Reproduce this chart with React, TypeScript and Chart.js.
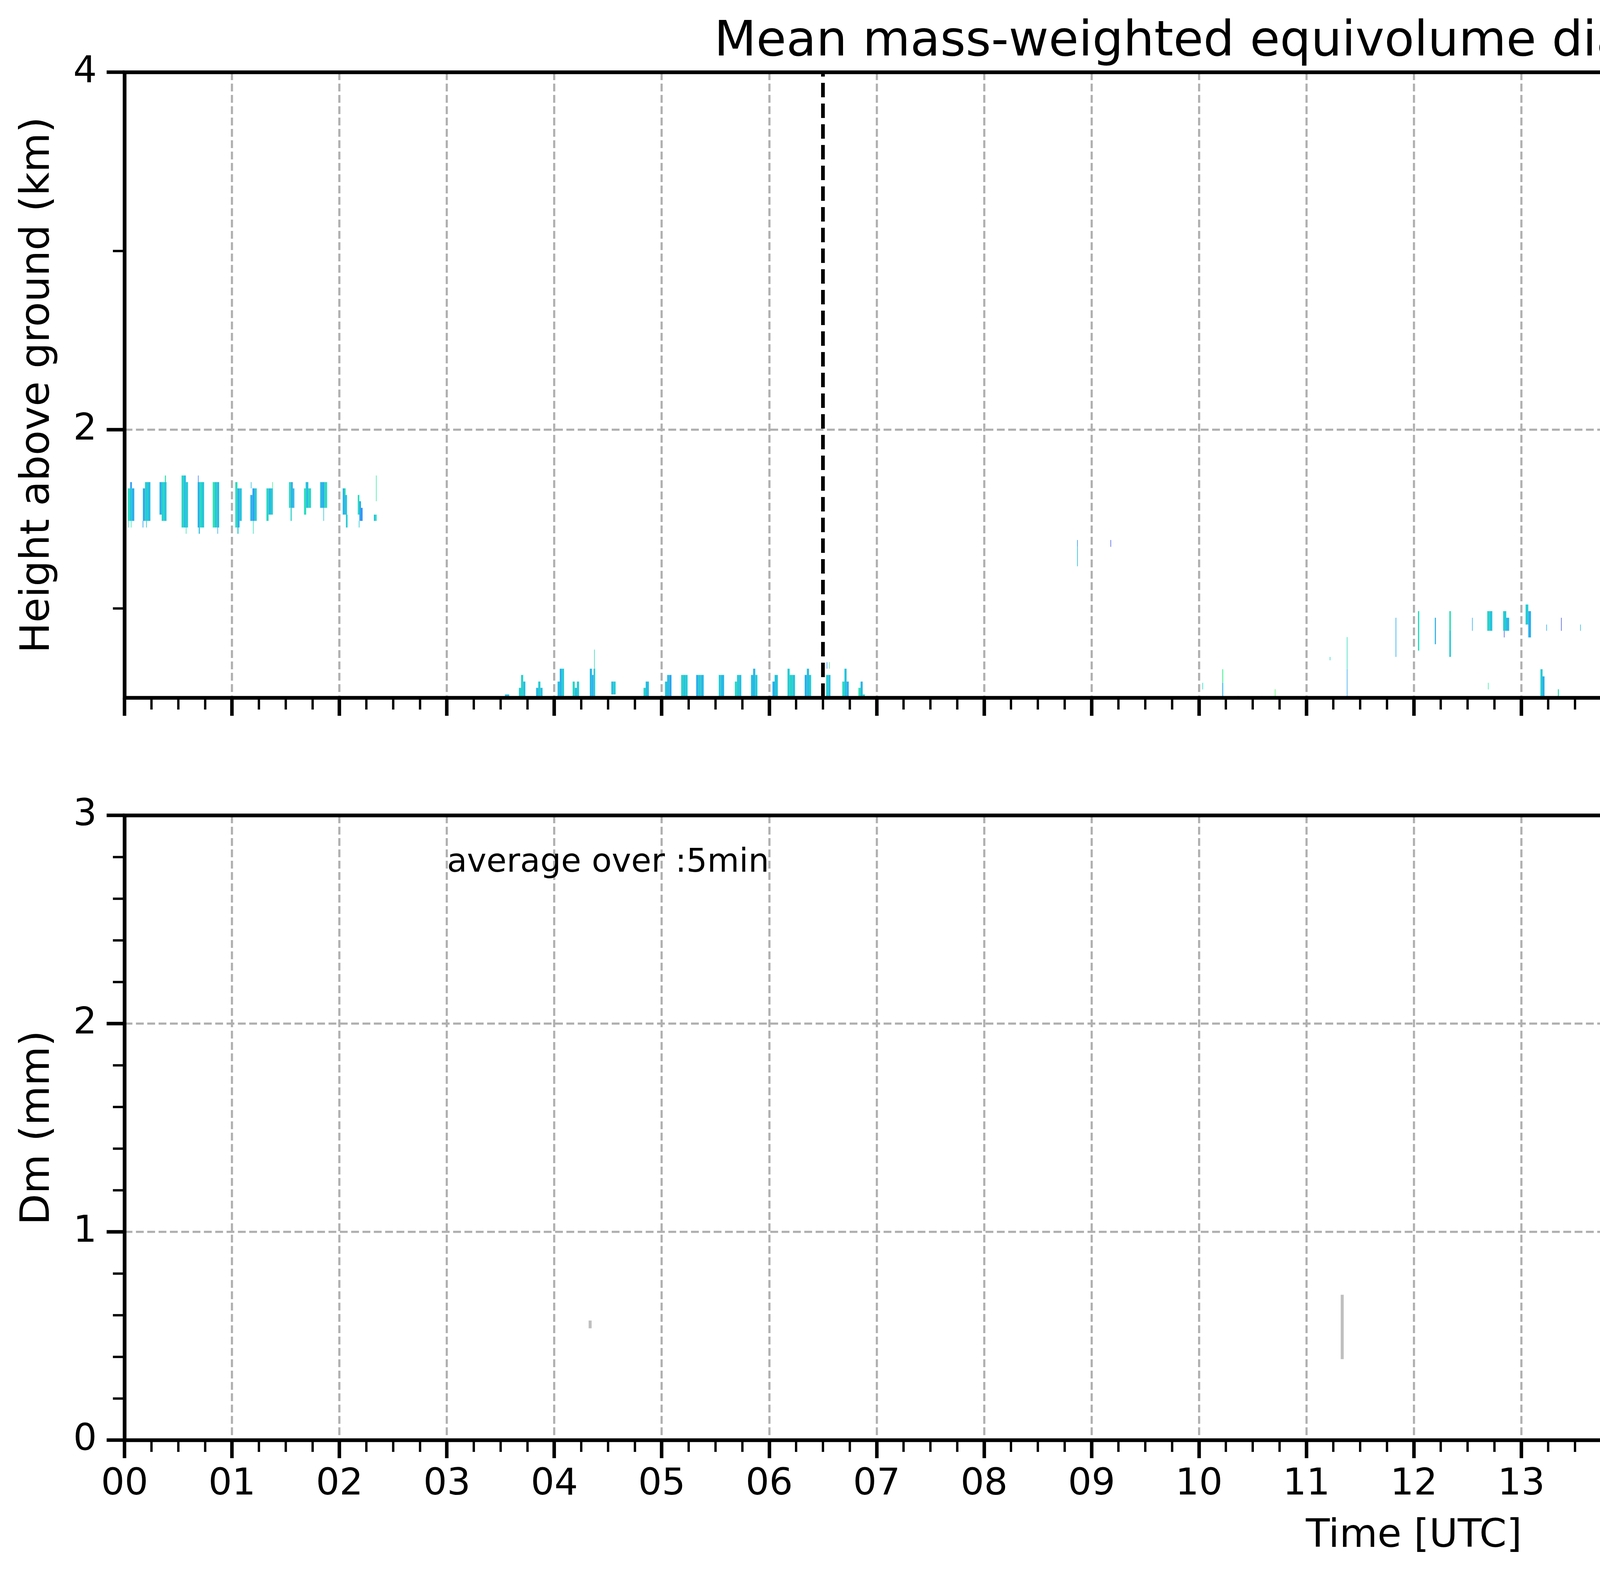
import React, { useEffect, useRef } from 'react';
import { Chart, registerables } from 'chart.js';

Chart.register(...registerables);

const FONT = "'DejaVu Sans', 'Liberation Sans', Arial, sans-serif";
Chart.defaults.font.family = FONT;

// ---------------- ticks & labels ----------------
const hourTicks = [0, 1, 2, 3, 4, 5, 6, 7, 8, 9, 10, 11, 12, 13, 14, 15, 16, 17, 18, 19, 20, 21, 22, 23];
const hourLabels = ['00', '01', '02', '03', '04', '05', '06', '07', '08', '09', '10', '11', '12', '13', '14', '15', '16', '17', '18', '19', '20', '21', '22', '23'];
const heightTicks = [2, 4];
const heightLabels = ['2', '4'];
const dmTicks = [0, 1, 2, 3];
const dmLabels = ['0', '1', '2', '3'];
const colorbarTicks = [0, 0.4, 0.8, 1.2, 1.6, 2.0];
const colorbarLabels = ['0.0', '0.4', '0.8', '1.2', '1.6', '2.0'];

const titleText = 'Mean mass-weighted equivolume diameter on 20260208';

// ---------------- top panel: radar Dm time-height cells ----------------
// [start hour, end hour, bottom km, top km, Dm mm]
const echoCellsMorning = [
  [0.030, 0.048, 1.490, 1.672, 0.62], [0.048, 0.068, 1.490, 1.672, 0.52], [0.068, 0.090, 1.490, 1.672, 0.45],
  [0.052, 0.068, 1.672, 1.707, 0.40], [0.035, 0.040, 1.453, 1.490, 0.60], [0.058, 0.063, 1.453, 1.490, 0.66],
  [0.170, 0.190, 1.490, 1.672, 0.44], [0.190, 0.215, 1.490, 1.707, 0.56], [0.215, 0.240, 1.490, 1.707, 0.50],
  [0.168, 0.174, 1.453, 1.490, 0.42], [0.200, 0.206, 1.453, 1.490, 0.56],
  [0.325, 0.345, 1.525, 1.707, 0.46], [0.345, 0.365, 1.490, 1.707, 0.58], [0.365, 0.390, 1.490, 1.707, 0.53],
  [0.375, 0.385, 1.707, 1.744, 0.68],
  [0.530, 0.550, 1.453, 1.744, 0.60], [0.550, 0.570, 1.453, 1.744, 0.50], [0.570, 0.590, 1.453, 1.707, 0.55],
  [0.570, 0.575, 1.418, 1.453, 0.66],
  [0.680, 0.700, 1.453, 1.707, 0.47], [0.700, 0.720, 1.453, 1.707, 0.60], [0.720, 0.740, 1.453, 1.707, 0.52],
  [0.683, 0.688, 1.707, 1.744, 0.30], [0.690, 0.700, 1.418, 1.453, 0.50],
  [0.820, 0.840, 1.453, 1.707, 0.66], [0.840, 0.860, 1.453, 1.707, 0.54], [0.860, 0.880, 1.453, 1.707, 0.49],
  [0.864, 0.868, 1.418, 1.453, 0.44],
  [1.030, 1.050, 1.453, 1.707, 0.62], [1.050, 1.070, 1.453, 1.672, 0.45], [1.070, 1.090, 1.490, 1.672, 0.52],
  [1.050, 1.060, 1.418, 1.453, 0.55],
  [1.170, 1.190, 1.490, 1.635, 0.47], [1.190, 1.210, 1.490, 1.672, 0.40], [1.210, 1.230, 1.490, 1.672, 0.56],
  [1.175, 1.180, 1.672, 1.707, 0.50], [1.195, 1.200, 1.418, 1.490, 0.62],
  [1.320, 1.340, 1.490, 1.672, 0.60], [1.340, 1.360, 1.525, 1.672, 0.48], [1.360, 1.380, 1.525, 1.672, 0.55],
  [1.374, 1.378, 1.672, 1.707, 0.75],
  [1.530, 1.550, 1.563, 1.707, 0.62], [1.550, 1.565, 1.563, 1.707, 0.40], [1.565, 1.580, 1.563, 1.672, 0.50],
  [1.545, 1.555, 1.490, 1.563, 0.58],
  [1.670, 1.690, 1.525, 1.672, 0.62], [1.690, 1.710, 1.563, 1.707, 0.50], [1.710, 1.735, 1.563, 1.672, 0.60],
  [1.685, 1.690, 1.672, 1.707, 0.55],
  [1.820, 1.840, 1.563, 1.707, 0.50], [1.840, 1.860, 1.563, 1.707, 0.44], [1.860, 1.885, 1.563, 1.707, 0.62],
  [1.850, 1.855, 1.490, 1.563, 0.52],
  [2.030, 2.050, 1.525, 1.672, 0.46], [2.050, 2.070, 1.525, 1.635, 0.52], [2.060, 2.075, 1.453, 1.525, 0.55],
  [2.048, 2.058, 1.635, 1.672, 0.70],
  [2.170, 2.185, 1.525, 1.635, 0.62], [2.185, 2.200, 1.490, 1.600, 0.42], [2.200, 2.215, 1.490, 1.563, 0.35],
  [2.180, 2.186, 1.453, 1.490, 0.55],
  [2.320, 2.336, 1.490, 1.525, 0.52], [2.336, 2.346, 1.490, 1.525, 0.62], [2.340, 2.345, 1.600, 1.744, 0.70],
];

const echoCellsLow = [
  [3.540, 3.580, 0.500, 0.519, 0.50],
  [3.670, 3.690, 0.500, 0.556, 0.55], [3.690, 3.710, 0.500, 0.628, 0.58], [3.710, 3.730, 0.500, 0.591, 0.50],
  [3.830, 3.850, 0.500, 0.556, 0.48], [3.850, 3.870, 0.500, 0.591, 0.55], [3.870, 3.890, 0.500, 0.556, 0.50],
  [4.030, 4.050, 0.500, 0.591, 0.50], [4.050, 4.070, 0.500, 0.663, 0.46], [4.070, 4.090, 0.500, 0.663, 0.55],
  [4.170, 4.190, 0.500, 0.591, 0.60], [4.190, 4.210, 0.500, 0.556, 0.50], [4.210, 4.230, 0.500, 0.591, 0.55],
  [4.330, 4.350, 0.500, 0.663, 0.48], [4.350, 4.365, 0.500, 0.628, 0.44], [4.365, 4.380, 0.500, 0.663, 0.55],
  [4.370, 4.374, 0.663, 0.770, 0.62],
  [4.530, 4.550, 0.519, 0.591, 0.50], [4.550, 4.570, 0.519, 0.591, 0.55],
  [4.830, 4.850, 0.500, 0.556, 0.58], [4.850, 4.880, 0.500, 0.591, 0.50],
  [5.030, 5.050, 0.500, 0.591, 0.52], [5.050, 5.070, 0.500, 0.628, 0.50], [5.070, 5.090, 0.500, 0.628, 0.42],
  [5.180, 5.200, 0.500, 0.628, 0.58], [5.200, 5.220, 0.500, 0.628, 0.52], [5.220, 5.240, 0.500, 0.628, 0.55],
  [5.320, 5.340, 0.500, 0.628, 0.44], [5.340, 5.365, 0.500, 0.628, 0.55], [5.365, 5.390, 0.500, 0.628, 0.48],
  [5.530, 5.550, 0.500, 0.628, 0.55], [5.550, 5.580, 0.500, 0.628, 0.48],
  [5.680, 5.700, 0.500, 0.591, 0.60], [5.700, 5.720, 0.500, 0.628, 0.55], [5.720, 5.740, 0.500, 0.628, 0.50],
  [5.830, 5.850, 0.500, 0.628, 0.50], [5.850, 5.870, 0.500, 0.663, 0.48], [5.870, 5.890, 0.500, 0.628, 0.55],
  [6.030, 6.050, 0.500, 0.591, 0.45], [6.050, 6.080, 0.500, 0.628, 0.52],
  [6.170, 6.190, 0.500, 0.663, 0.55], [6.190, 6.215, 0.500, 0.628, 0.58], [6.215, 6.240, 0.500, 0.628, 0.52],
  [6.330, 6.350, 0.500, 0.628, 0.45], [6.350, 6.370, 0.500, 0.663, 0.50], [6.370, 6.390, 0.500, 0.628, 0.55],
  [6.530, 6.550, 0.500, 0.628, 0.55], [6.550, 6.570, 0.500, 0.628, 0.50],
  [6.535, 6.540, 0.663, 0.700, 0.35], [6.558, 6.562, 0.663, 0.700, 0.75],
  [6.680, 6.700, 0.500, 0.591, 0.60], [6.700, 6.720, 0.500, 0.663, 0.52], [6.720, 6.740, 0.500, 0.591, 0.45],
  [6.830, 6.850, 0.500, 0.556, 0.65], [6.850, 6.870, 0.500, 0.591, 0.48], [6.870, 6.890, 0.500, 0.519, 0.60],
];

const echoCellsMid = [
  [8.866, 8.872, 1.236, 1.345, 0.50], [8.866, 8.872, 1.345, 1.383, 0.38],
  [9.176, 9.181, 1.345, 1.383, 0.22],
];

const echoCellsNoon = [
  [10.032, 10.037, 0.547, 0.584, 0.60],
  [10.070, 10.074, 0.500, 0.510, 0.30],
  [10.217, 10.225, 0.584, 0.660, 0.75], [10.217, 10.225, 0.500, 0.584, 0.45],
  [10.360, 10.364, 0.500, 0.510, 0.25],
  [10.580, 10.585, 0.500, 0.510, 0.35],
  [10.706, 10.712, 0.500, 0.548, 0.85],
  [11.217, 11.221, 0.710, 0.729, 0.60],
  [11.376, 11.381, 0.660, 0.840, 0.62], [11.376, 11.381, 0.500, 0.660, 0.42],
  [11.830, 11.836, 0.729, 0.948, 0.45],
  [12.038, 12.050, 0.764, 0.985, 0.62],
  [12.195, 12.205, 0.800, 0.948, 0.45],
  [12.330, 12.345, 0.729, 0.985, 0.55], [12.335, 12.340, 0.875, 0.985, 0.78],
  [12.542, 12.546, 0.875, 0.948, 0.45],
  [12.683, 12.705, 0.875, 0.985, 0.58], [12.705, 12.730, 0.875, 0.985, 0.52],
  [12.690, 12.694, 0.547, 0.584, 0.70],
  [12.831, 12.860, 0.875, 0.985, 0.55], [12.860, 12.887, 0.875, 0.948, 0.48],
  [12.838, 12.842, 0.838, 0.875, 0.20],
  [13.040, 13.065, 0.910, 1.022, 0.55], [13.065, 13.090, 0.838, 0.985, 0.45],
  [13.178, 13.198, 0.500, 0.660, 0.55], [13.198, 13.216, 0.500, 0.620, 0.45],
  [13.233, 13.237, 0.875, 0.910, 0.45],
  [13.340, 13.350, 0.500, 0.548, 0.65],
  [13.370, 13.374, 0.875, 0.948, 0.20],
  [13.548, 13.552, 0.875, 0.910, 0.50],
  [13.836, 13.856, 0.910, 0.985, 0.60], [13.856, 13.876, 0.910, 0.985, 0.48],
  [14.035, 14.045, 0.875, 0.985, 0.55],
];

const echoCellsEvening = [
  [16.036, 16.040, 0.500, 0.556, 0.70],
  [16.073, 16.080, 0.500, 0.556, 0.62],
  [16.080, 16.088, 0.590, 0.663, 0.52], [16.080, 16.088, 0.500, 0.590, 0.42],
  [16.186, 16.195, 0.500, 0.556, 0.55],
];

const markerTimes = [6.5, 16.4];
const noDataBand = [23.877, 23.975];
const heightRange = [0.5, 4];
const dmRange = [0, 3];
const colorRange = [0, 2];

// ---------------- bottom panel: Dm time series ----------------
const radarRangeTimes = [4.333, 11.333];
const radarRangeMin = [0.538, 0.390];
const radarRangeMax = [0.574, 0.698];
const radarMedianTimes: number[] = [];
const radarMedianValues: number[] = [];
const parsivelRangeTimes: number[] = [];
const parsivelRangeMin: number[] = [];
const parsivelRangeMax: number[] = [];
const parsivelMedianTimes: number[] = [];
const parsivelMedianValues: number[] = [];

// ---------------- helpers ----------------
function turbo(t: number): string {
  t = Math.max(0, Math.min(1, t));
  const r = 0.13572138 + t * (4.6153926 + t * (-42.66032258 + t * (132.13108234 + t * (-152.94239396 + t * 59.28637943))));
  const g = 0.09140261 + t * (2.19418839 + t * (4.84296658 + t * (-14.18503333 + t * (4.27729857 + t * 2.82956604))));
  const b = 0.1066733 + t * (12.64194608 + t * (-60.58204836 + t * (110.36276771 + t * (-89.90310912 + t * 27.34824973))));
  const c = (v: number) => Math.round(255 * Math.max(0, Math.min(1, v)));
  return `rgb(${c(r)},${c(g)},${c(b)})`;
}

const GRID_COLOR = '#b0b0b0';
const TICK_FONT = 95;
const YLABEL_FONT = 104;
const XLABEL_FONT = 100;
const gridOpts = {
  color: GRID_COLOR, lineWidth: 5.5, drawTicks: true, tickLength: 46, tickWidth: 9,
  tickColor: '#000', tickBorderDash: [], offset: false,
};
const borderOpts = { display: false, dash: [20, 9] };

const heatmapPlugin = {
  id: 'heatmap',
  beforeDatasetsDraw(chart: any, _a: any, opts: any) {
    const cells: number[][] = opts.cells || [];
    if (!cells.length) return;
    const { ctx, chartArea: ca } = chart;
    const xs = chart.scales.x, ys = chart.scales.y;
    ctx.save();
    ctx.beginPath(); ctx.rect(ca.left, ca.top, ca.width, ca.height); ctx.clip();
    for (const [t0, t1, h0, h1, dm] of cells) {
      const x0 = xs.getPixelForValue(t0), x1 = xs.getPixelForValue(t1);
      const yTop = ys.getPixelForValue(h1), yBot = ys.getPixelForValue(h0);
      ctx.fillStyle = turbo((dm - opts.vmin) / (opts.vmax - opts.vmin));
      ctx.fillRect(x0, yTop, Math.max(1.5, x1 - x0), yBot - yTop);
    }
    ctx.restore();
  },
};

const axesDecorPlugin = {
  id: 'axesDecor',
  afterDraw(chart: any, _a: any, opts: any) {
    const { ctx, chartArea: ca } = chart;
    const xs = chart.scales.x, ys = chart.scales.y;
    ctx.save();
    ctx.strokeStyle = '#000';
    ctx.lineWidth = 6;
    const near = (v: number, arr: number[]) => arr.some((a) => Math.abs(a - v) < 1e-6);
    if (opts.xMinor) {
      const majors = xs.ticks.map((t: any) => t.value);
      const [s, e, st] = opts.xMinor;
      for (let k = 0; s + k * st <= e + 1e-9; k++) {
        const v = s + k * st;
        if (near(v, majors)) continue;
        const px = xs.getPixelForValue(v);
        ctx.beginPath(); ctx.moveTo(px, ca.bottom); ctx.lineTo(px, ca.bottom + 30); ctx.stroke();
      }
    }
    if (opts.yMinor) {
      const majors = ys.ticks.map((t: any) => t.value);
      const [s, e, st] = opts.yMinor;
      for (let k = 0; s + k * st <= e + 1e-9; k++) {
        const v = s + k * st;
        if (near(v, majors)) continue;
        const py = ys.getPixelForValue(v);
        ctx.beginPath(); ctx.moveTo(ca.left - 30, py); ctx.lineTo(ca.left, py); ctx.stroke();
      }
    }
    ctx.lineWidth = 9.5;
    ctx.strokeRect(ca.left, ca.top, ca.width, ca.height);
    ctx.restore();
  },
};

const noteTextPlugin = {
  id: 'noteText',
  afterDatasetsDraw(chart: any, _a: any, opts: any) {
    if (!opts.text) return;
    const { ctx } = chart;
    ctx.save();
    ctx.font = `${opts.size}px ${FONT}`;
    ctx.fillStyle = '#000';
    ctx.textAlign = 'left';
    ctx.textBaseline = 'alphabetic';
    ctx.fillText(opts.text, chart.scales.x.getPixelForValue(opts.x), chart.scales.y.getPixelForValue(opts.y));
    ctx.restore();
  },
};

const frameLegendPlugin = {
  id: 'frameLegend',
  afterDatasetsDraw(chart: any, _a: any, opts: any) {
    if (!opts.display) return;
    const { ctx, chartArea: ca } = chart;
    const items = chart.data.datasets.filter((d: any) => d.label);
    ctx.save();
    ctx.font = `${opts.fontSize}px ${FONT}`;
    const textW = Math.max(...items.map((d: any) => ctx.measureText(d.label).width));
    const padL = 25, handleW = 144, handleH = 52, gap = 56, padR = 30, rowH = 103, padT = 58, padB = 68;
    const w = padL + handleW + gap + textW + padR;
    const h = padT + rowH * (items.length - 1) + padB;
    const right = ca.right - 36, top = ca.top + 33, left = right - w;
    const r = 18;
    ctx.beginPath();
    ctx.moveTo(left + r, top);
    ctx.lineTo(right - r, top); ctx.arcTo(right, top, right, top + r, r);
    ctx.lineTo(right, top + h - r); ctx.arcTo(right, top + h, right - r, top + h, r);
    ctx.lineTo(left + r, top + h); ctx.arcTo(left, top + h, left, top + h - r, r);
    ctx.lineTo(left, top + r); ctx.arcTo(left, top, left + r, top, r);
    ctx.closePath();
    ctx.fillStyle = 'rgba(255,255,255,0.8)';
    ctx.fill();
    ctx.strokeStyle = '#d4d4d4';
    ctx.lineWidth = 6;
    ctx.stroke();
    items.forEach((d: any, i: number) => {
      const cy = top + padT + i * rowH;
      const hx = left + padL;
      if (d.legendKind === 'box') {
        ctx.fillStyle = d.backgroundColor;
        ctx.fillRect(hx, cy - handleH / 2, handleW, handleH);
        ctx.strokeStyle = d.borderColor;
        ctx.lineWidth = 5;
        ctx.strokeRect(hx + 2.5, cy - handleH / 2 + 2.5, handleW - 5, handleH - 5);
      } else {
        ctx.strokeStyle = d.borderColor;
        ctx.lineWidth = d.borderWidth;
        ctx.beginPath(); ctx.moveTo(hx, cy); ctx.lineTo(hx + handleW, cy); ctx.stroke();
      }
      ctx.fillStyle = '#000';
      ctx.textAlign = 'left';
      ctx.textBaseline = 'middle';
      ctx.fillText(d.label, hx + handleW + gap, cy);
    });
    ctx.restore();
  },
};

const colorbarPlugin = {
  id: 'colorbar',
  beforeDatasetsDraw(chart: any, _a: any, opts: any) {
    const { ctx, chartArea: ca } = chart;
    const ys = chart.scales.y;
    const y0 = ys.getPixelForValue(opts.min), y1 = ys.getPixelForValue(opts.max);
    const grad = ctx.createLinearGradient(0, y0, 0, y1);
    const n = 64;
    for (let i = 0; i <= n; i++) grad.addColorStop(i / n, turbo(i / n));
    ctx.save();
    ctx.fillStyle = grad;
    ctx.fillRect(ca.left, y1, ca.width, y0 - y1);
    ctx.strokeStyle = '#111';
    ctx.lineWidth = 4.5;
    ctx.strokeRect(ca.left, y1, ca.width, y0 - y1);
    ctx.restore();
  },
  afterDraw(chart: any, _a: any, opts: any) {
    const { ctx, chartArea: ca } = chart;
    ctx.save();
    ctx.translate(ca.right + opts.labelOffset, (ca.top + ca.bottom) / 2);
    ctx.rotate(-Math.PI / 2);
    ctx.font = `${opts.labelSize}px ${FONT}`;
    ctx.fillStyle = '#000';
    ctx.textAlign = 'center';
    ctx.textBaseline = 'middle';
    ctx.fillText(opts.label, 0, 0);
    ctx.restore();
  },
};

function timeAxis(showLabels: boolean, height: number) {
  return {
    type: 'linear',
    min: 0,
    max: 24,
    offset: false,
    afterBuildTicks: (s: any) => { s.ticks = hourTicks.map((v) => ({ value: v })); },
    afterFit: (s: any) => { s.height = height; },
    grid: gridOpts,
    border: borderOpts,
    ticks: {
      display: showLabels, autoSkip: false, maxRotation: 0, minRotation: 0, padding: 11,
      color: '#000', font: { family: FONT, size: TICK_FONT },
      callback: (_v: any, i: number) => hourLabels[i],
    },
    title: showLabels
      ? { display: true, text: 'Time [UTC]', color: '#000', font: { family: FONT, size: XLABEL_FONT }, padding: { top: 0, bottom: 38 } }
      : { display: false },
  };
}

function valueAxis(min: number, max: number, ticks: number[], labels: string[], title: string) {
  return {
    type: 'linear',
    min,
    max,
    afterBuildTicks: (s: any) => { s.ticks = ticks.map((v) => ({ value: v })); },
    afterFit: (s: any) => { s.width = 319; },
    grid: gridOpts,
    border: borderOpts,
    ticks: { padding: 25, color: '#000', font: { family: FONT, size: TICK_FONT }, callback: (_v: any, i: number) => labels[i] },
    title: { display: true, text: title, color: '#000', font: { family: FONT, size: YLABEL_FONT }, padding: { top: 36, bottom: 0 } },
  };
}

export default function App() {
  const topRef = useRef<HTMLCanvasElement>(null);
  const cbRef = useRef<HTMLCanvasElement>(null);
  const botRef = useRef<HTMLCanvasElement>(null);

  useEffect(() => {
    const charts: Chart[] = [];
    const allCells = [...echoCellsMorning, ...echoCellsLow, ...echoCellsMid, ...echoCellsNoon, ...echoCellsEvening];

    charts.push(new Chart(topRef.current as HTMLCanvasElement, {
      type: 'line',
      data: {
        datasets: [
          {
            label: '',
            data: noDataBand.map((t) => ({ x: t, y: heightRange[1] })),
            fill: 'start', backgroundColor: '#d9d9d9', borderWidth: 0, pointRadius: 0,
          },
          ...markerTimes.map((t) => ({
            label: '',
            data: [{ x: t, y: heightRange[0] }, { x: t, y: heightRange[1] }],
            borderColor: '#000', borderWidth: 9.5, borderDash: [37, 16], pointRadius: 0, fill: false,
          })),
        ],
      } as any,
      options: {
        animation: false, responsive: false, devicePixelRatio: 1,
        layout: { padding: { left: 0, right: 10, top: 0, bottom: 0 } },
        plugins: {
          legend: { display: false }, tooltip: { enabled: false },
          title: {
            display: true, text: titleText, fullSize: false, align: 'center', color: '#000',
            font: { family: FONT, size: 125, weight: 'normal' }, padding: { top: 35, bottom: 0 },
          },
          heatmap: { cells: allCells, vmin: colorRange[0], vmax: colorRange[1] },
          axesDecor: { xMinor: [0, 24, 0.25], yMinor: [1, 4, 1] },
        } as any,
        scales: {
          x: timeAxis(false, 114) as any,
          y: valueAxis(heightRange[0], heightRange[1], heightTicks, heightLabels, 'Height above ground (km)') as any,
        },
      },
      plugins: [heatmapPlugin, axesDecorPlugin],
    }));

    charts.push(new Chart(cbRef.current as HTMLCanvasElement, {
      type: 'line',
      data: { datasets: [] },
      options: {
        animation: false, responsive: false, devicePixelRatio: 1,
        layout: { padding: { left: 62, right: 0, top: 185, bottom: 114 } },
        plugins: {
          legend: { display: false }, tooltip: { enabled: false },
          colorbar: { min: colorRange[0], max: colorRange[1], label: 'Dm (mm)', labelSize: 82, labelOffset: 240 },
        } as any,
        scales: {
          x: { type: 'linear', display: false, min: 0, max: 1 },
          y: {
            type: 'linear', position: 'right', min: colorRange[0], max: colorRange[1],
            afterBuildTicks: (s: any) => { s.ticks = colorbarTicks.map((v) => ({ value: v })); },
            afterFit: (s: any) => { s.width = 337; },
            grid: { drawOnChartArea: false, drawTicks: true, tickLength: 21, tickWidth: 7, tickColor: '#000', tickBorderDash: [] },
            border: { display: false },
            ticks: { padding: 24, color: '#000', font: { family: FONT, size: 82 }, callback: (_v: any, i: number) => colorbarLabels[i] },
          } as any,
        },
      },
      plugins: [colorbarPlugin],
    }));

    charts.push(new Chart(botRef.current as HTMLCanvasElement, {
      type: 'bar',
      data: {
        datasets: [
          {
            type: 'bar', label: 'Min-Max Range radar Dm', legendKind: 'box',
            data: radarRangeTimes.map((t, i) => ({ x: t, y: [radarRangeMin[i], radarRangeMax[i]] })),
            backgroundColor: 'rgba(128,128,128,0.5)', borderColor: 'rgba(128,128,128,0.5)', borderWidth: 0,
            barThickness: 7, grouped: false,
          },
          {
            type: 'line', label: 'radar(xmacs-wmacs)_Dm_median', legendKind: 'line',
            data: radarMedianTimes.map((t, i) => ({ x: t, y: radarMedianValues[i] })),
            borderColor: '#000000', borderWidth: 9.5, pointRadius: 0, fill: false,
          },
          {
            type: 'bar', label: 'Min-Max Range parsivel Dm', legendKind: 'box',
            data: parsivelRangeTimes.map((t, i) => ({ x: t, y: [parsivelRangeMin[i], parsivelRangeMax[i]] })),
            backgroundColor: 'rgba(191,0,191,0.3)', borderColor: 'rgba(191,0,191,0.3)', borderWidth: 0,
            barThickness: 7, grouped: false,
          },
          {
            type: 'line', label: 'parsivel_Dm_median', legendKind: 'line',
            data: parsivelMedianTimes.map((t, i) => ({ x: t, y: parsivelMedianValues[i] })),
            borderColor: '#bf00bf', borderWidth: 9.5, pointRadius: 0, fill: false,
          },
        ],
      } as any,
      options: {
        animation: false, responsive: false, devicePixelRatio: 1,
        layout: { padding: { left: 0, right: 10, top: 187, bottom: 0 } },
        plugins: {
          legend: { display: false }, tooltip: { enabled: false },
          frameLegend: { display: true, fontSize: 69 },
          noteText: { text: 'average over :5min', x: 3.0, y: 2.73, size: 84 },
          axesDecor: { xMinor: [0, 24, 0.25], yMinor: [0, 3, 0.2] },
        } as any,
        scales: {
          x: { ...timeAxis(true, 345), grid: { ...gridOpts, offset: false } } as any,
          y: valueAxis(dmRange[0], dmRange[1], dmTicks, dmLabels, 'Dm (mm)') as any,
        },
      },
      plugins: [noteTextPlugin, frameLegendPlugin, axesDecorPlugin],
    }));

    return () => { charts.forEach((c) => c.destroy()); };
  }, []);

  return (
    <div style={{ position: 'absolute', left: 0, top: 0, width: 7442, height: 4031, background: '#ffffff', overflow: 'hidden' }}>
      <canvas ref={topRef} width={6930} height={1900} style={{ position: 'absolute', left: 0, top: 0, width: 6930, height: 1900 }} />
      <canvas ref={cbRef} width={512} height={1900} style={{ position: 'absolute', left: 6930, top: 0, width: 512, height: 1900 }} />
      <canvas ref={botRef} width={6930} height={2131} style={{ position: 'absolute', left: 0, top: 1900, width: 6930, height: 2131 }} />
    </div>
  );
}
